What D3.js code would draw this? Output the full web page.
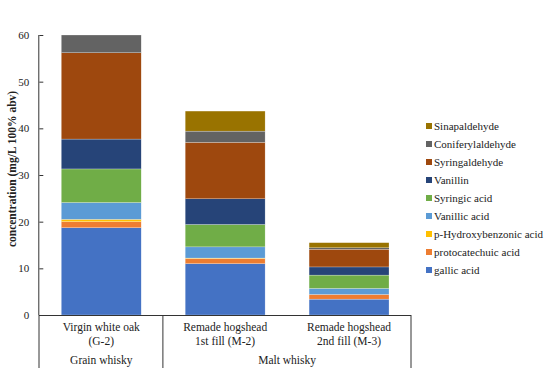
<!DOCTYPE html>
<html><head><meta charset="utf-8">
<script src="https://cdn.jsdelivr.net/npm/d3@7"></script>
<style>body{margin:0;background:#fff}svg text{font-family:"Liberation Serif","Times New Roman","DejaVu Serif",serif}</style>
</head><body><svg id="c" width="549" height="378"></svg>
<script>
const categories = ["G-2","M-2","M-3"];
const catLine1 = ["Virgin white oak","Remade hogshead","Remade hogshead"];
const catLine2 = ["(G-2)","1st fill (M-2)","2nd fill (M-3)"];
const groups = [{name:"Grain whisky", from:0, to:0},{name:"Malt whisky", from:1, to:2}];
const seriesNames = ["gallic acid","protocatechuic acid","p-Hydroxybenzonic acid","Vanillic acid","Syringic acid","Vanillin","Syringaldehyde","Coniferylaldehyde","Sinapaldehyde"];
const gallic = [18.7, 11.0, 3.4];
const protocatechuic = [1.3, 1.1, 1.0];
const pHydroxy = [0.5, 0.1, 0.0];
const vanillic = [3.6, 2.4, 1.3];
const syringic = [7.2, 4.8, 2.85];
const vanillin = [6.4, 5.5, 1.75];
const syringaldehyde = [18.5, 12.1, 3.8];
const coniferylaldehyde = [3.8, 2.4, 0.3];
const sinapaldehyde = [0.0, 4.3, 1.1];
const colors = ["#4472C4","#ED7D31","#FFC000","#5B9BD5","#70AD47","#264478","#9E480E","#636363","#997300"];
const yTicks = [0,10,20,30,40,50,60];

const FONT = "Liberation Serif, Times New Roman, DejaVu Serif, serif";
const seriesVals = [gallic,protocatechuic,pHydroxy,vanillic,syringic,vanillin,syringaldehyde,coniferylaldehyde,sinapaldehyde];
const table = categories.map((c,i)=>{const o={cat:c}; seriesNames.forEach((s,j)=>o[s]=seriesVals[j][i]); return o;});
const stack = d3.stack().keys(seriesNames)(table);

const svg = d3.select("#c");
const x = d3.scaleBand().domain(categories).range([39.3,411]).paddingInner(0.355).paddingOuter(0.1775);
const y = d3.scaleLinear().domain([0,60]).range([315,35]);

// bars
svg.append("g").selectAll("g").data(stack).join("g").attr("fill",(d,i)=>colors[i])
  .selectAll("rect").data(d=>d).join("rect")
  .attr("x",d=>x(d.data.cat)).attr("width",x.bandwidth())
  .attr("y",d=>y(d[1])).attr("height",d=>Math.max(0,y(d[0])-y(d[1])))
  .attr("stroke","#fff").attr("stroke-width",0.4).attr("stroke-opacity",0.6);

// y axis
const ya = svg.append("g").attr("transform","translate(39.3,0)")
  .call(d3.axisLeft(y).tickValues(yTicks).tickSize(-4).tickPadding(10).tickFormat(d3.format("d")));
ya.attr("font-family",FONT);
ya.select(".domain").attr("stroke","#333").attr("d","M-0.5,315V35");
ya.selectAll(".tick line").attr("stroke","#333");
ya.selectAll("text").attr("font-size",11).attr("fill","#222").attr("font-family",FONT);

// x baseline and group dividers
svg.append("line").attr("x1",39).attr("x2",411).attr("y1",315.5).attr("y2",315.5).attr("stroke","#333");
const step = x.step();
const divX = [39, 39+step, 411];
svg.selectAll(".div").data(divX).join("line").attr("x1",d=>d).attr("x2",d=>d).attr("y1",315).attr("y2",368).attr("stroke","#333");

const lab = svg.append("g").attr("font-size",11.5).attr("font-family",FONT).attr("fill","#222").attr("text-anchor","middle");
categories.forEach((c,i)=>{
  const cx = x(c)+x.bandwidth()/2;
  lab.append("text").attr("x",cx).attr("y",331).text(catLine1[i]);
  lab.append("text").attr("x",cx).attr("y",345).text(catLine2[i]);
});
groups.forEach(g=>{
  const a = x(categories[g.from]) - (step - x.bandwidth())/2;
  const b = x(categories[g.to]) + x.bandwidth() + (step - x.bandwidth())/2;
  lab.append("text").attr("x",(a+b)/2).attr("y",364).text(g.name);
});

// y title
svg.append("text").attr("transform","translate(16,169) rotate(-90)").attr("text-anchor","middle")
  .attr("font-family",FONT).attr("font-size",11.5).attr("font-weight","bold").attr("fill","#222").text("concentration (mg/L 100% abv)");

// legend (reverse order)
const leg = svg.append("g").attr("font-family",FONT);
const legItems = seriesNames.map((s,i)=>({s,c:colors[i]})).reverse();
legItems.forEach((d,i)=>{
  const yy = 126 + i*18;
  leg.append("rect").attr("x",426).attr("y",yy-3).attr("width",6).attr("height",6).attr("fill",d.c);
  leg.append("text").attr("x",434).attr("y",yy+4).attr("font-size",11).attr("fill","#222").text(d.s);
});
</script></body></html>
